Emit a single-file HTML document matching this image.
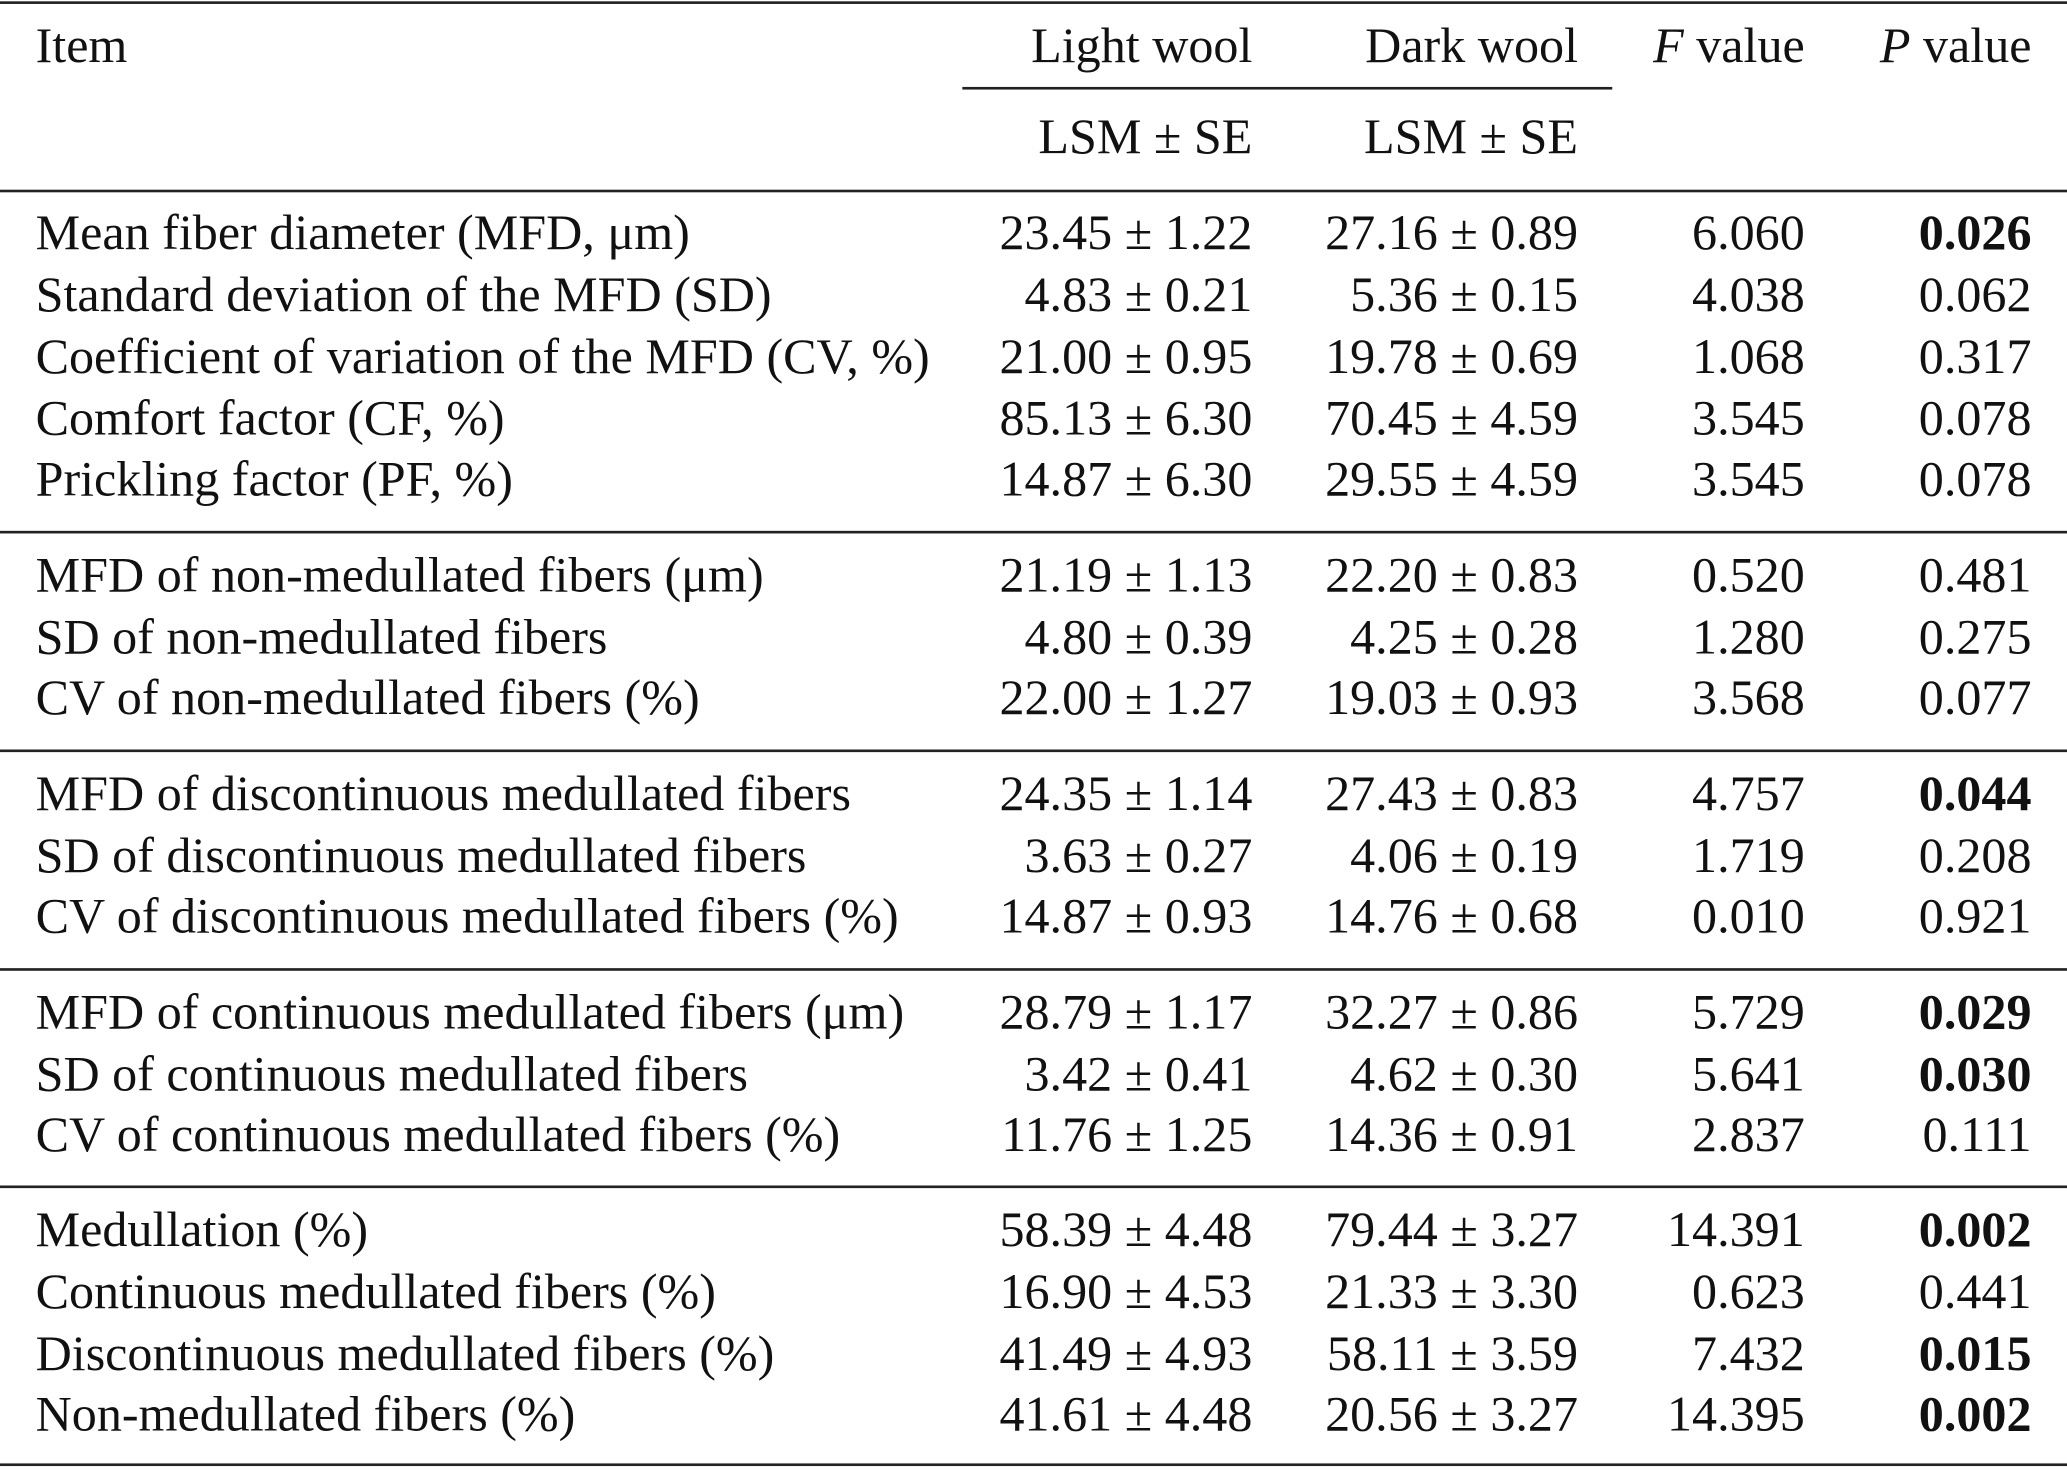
<!DOCTYPE html>
<html><head><meta charset="utf-8"><style>
html,body{margin:0;padding:0;background:#fff;}
body{width:2067px;height:1470px;overflow:hidden;}
#w{position:absolute;left:0;top:0;width:1568px;height:1116px;transform:scale(1.3183,1.3172);transform-origin:0 0;font-family:"Liberation Serif",serif;font-size:38px;color:#111;}
.r{position:absolute;left:0;width:1568px;height:40px;line-height:40px;}
.r span{position:absolute;white-space:nowrap;}
.a{left:27px}
.b{right:618px}
.c{right:371px}
.d{right:199px}
.e{right:27px}
.h{position:absolute;left:0;width:1568px;height:2px;background:#222;}
b{font-weight:bold}
</style></head><body><div id="w">
<div class="h" style="top:1px"></div>
<div class="r" style="top:15px"><span class="a">Item</span><span class="b">Light wool</span><span class="c">Dark wool</span><span class="d"><i>F</i> value</span><span class="e"><i>P</i> value</span></div>
<div class="h" style="top:66px;left:730px;width:493px"></div>
<div class="r" style="top:84px"><span class="b">LSM ± SE</span><span class="c">LSM ± SE</span></div>
<div class="h" style="top:144px"></div>

<div class="r" style="top:157px"><span class="a">Mean fiber diameter (MFD, μm)</span><span class="b">23.45 ± 1.22</span><span class="c">27.16 ± 0.89</span><span class="d">6.060</span><span class="e"><b>0.026</b></span></div>
<div class="r" style="top:204px"><span class="a">Standard deviation of the MFD (SD)</span><span class="b">4.83 ± 0.21</span><span class="c">5.36 ± 0.15</span><span class="d">4.038</span><span class="e">0.062</span></div>
<div class="r" style="top:251px"><span class="a">Coefficient of variation of the MFD (CV, %)</span><span class="b">21.00 ± 0.95</span><span class="c">19.78 ± 0.69</span><span class="d">1.068</span><span class="e">0.317</span></div>
<div class="r" style="top:298px"><span class="a">Comfort factor (CF, %)</span><span class="b">85.13 ± 6.30</span><span class="c">70.45 ± 4.59</span><span class="d">3.545</span><span class="e">0.078</span></div>
<div class="r" style="top:344px"><span class="a">Prickling factor (PF, %)</span><span class="b">14.87 ± 6.30</span><span class="c">29.55 ± 4.59</span><span class="d">3.545</span><span class="e">0.078</span></div>
<div class="h" style="top:403px;height:1.5px"></div>

<div class="r" style="top:417px"><span class="a">MFD of non-medullated fibers (μm)</span><span class="b">21.19 ± 1.13</span><span class="c">22.20 ± 0.83</span><span class="d">0.520</span><span class="e">0.481</span></div>
<div class="r" style="top:464px"><span class="a">SD of non-medullated fibers</span><span class="b">4.80 ± 0.39</span><span class="c">4.25 ± 0.28</span><span class="d">1.280</span><span class="e">0.275</span></div>
<div class="r" style="top:510px"><span class="a">CV of non-medullated fibers (%)</span><span class="b">22.00 ± 1.27</span><span class="c">19.03 ± 0.93</span><span class="d">3.568</span><span class="e">0.077</span></div>
<div class="h" style="top:569px;height:1.5px"></div>

<div class="r" style="top:583px"><span class="a">MFD of discontinuous medullated fibers</span><span class="b">24.35 ± 1.14</span><span class="c">27.43 ± 0.83</span><span class="d">4.757</span><span class="e"><b>0.044</b></span></div>
<div class="r" style="top:630px"><span class="a">SD of discontinuous medullated fibers</span><span class="b">3.63 ± 0.27</span><span class="c">4.06 ± 0.19</span><span class="d">1.719</span><span class="e">0.208</span></div>
<div class="r" style="top:676px"><span class="a">CV of discontinuous medullated fibers (%)</span><span class="b">14.87 ± 0.93</span><span class="c">14.76 ± 0.68</span><span class="d">0.010</span><span class="e">0.921</span></div>
<div class="h" style="top:735px;height:1.5px"></div>

<div class="r" style="top:749px"><span class="a">MFD of continuous medullated fibers (μm)</span><span class="b">28.79 ± 1.17</span><span class="c">32.27 ± 0.86</span><span class="d">5.729</span><span class="e"><b>0.029</b></span></div>
<div class="r" style="top:796px"><span class="a">SD of continuous medullated fibers</span><span class="b">3.42 ± 0.41</span><span class="c">4.62 ± 0.30</span><span class="d">5.641</span><span class="e"><b>0.030</b></span></div>
<div class="r" style="top:842px"><span class="a">CV of continuous medullated fibers (%)</span><span class="b">11.76 ± 1.25</span><span class="c">14.36 ± 0.91</span><span class="d">2.837</span><span class="e">0.111</span></div>
<div class="h" style="top:900px;height:1.5px"></div>

<div class="r" style="top:914px"><span class="a">Medullation (%)</span><span class="b">58.39 ± 4.48</span><span class="c">79.44 ± 3.27</span><span class="d">14.391</span><span class="e"><b>0.002</b></span></div>
<div class="r" style="top:961px"><span class="a">Continuous medullated fibers (%)</span><span class="b">16.90 ± 4.53</span><span class="c">21.33 ± 3.30</span><span class="d">0.623</span><span class="e">0.441</span></div>
<div class="r" style="top:1008px"><span class="a">Discontinuous medullated fibers (%)</span><span class="b">41.49 ± 4.93</span><span class="c">58.11 ± 3.59</span><span class="d">7.432</span><span class="e"><b>0.015</b></span></div>
<div class="r" style="top:1054px"><span class="a">Non-medullated fibers (%)</span><span class="b">41.61 ± 4.48</span><span class="c">20.56 ± 3.27</span><span class="d">14.395</span><span class="e"><b>0.002</b></span></div>
<div class="h" style="top:1111px"></div>
</div></body></html>
